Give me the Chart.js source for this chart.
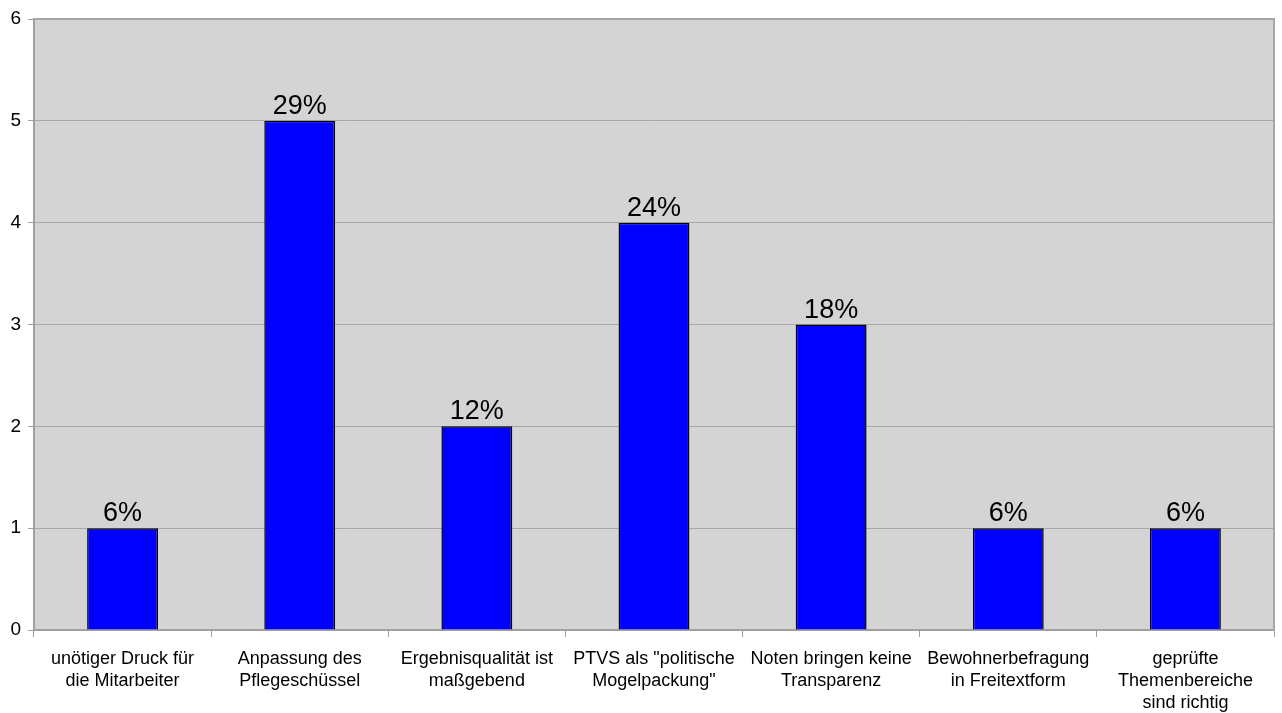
<!DOCTYPE html>
<html>
<head>
<meta charset="utf-8">
<script src="https://cdn.jsdelivr.net/npm/chart.js@4.4.1/dist/chart.umd.min.js"></script>
<style>
  html, body { margin: 0; padding: 0; background: #ffffff; }
  #wrap { width: 1282px; height: 713px; }
</style>
</head>
<body>
<div id="wrap"><canvas id="umfrageChart" width="1282" height="713"></canvas></div>
<script>
// Antworten (Anzahl Nennungen)
const kategorien = [
  ["unötiger Druck für", "die Mitarbeiter"],
  ["Anpassung des", "Pflegeschüssel"],
  ["Ergebnisqualität ist", "maßgebend"],
  ["PTVS als \"politische", "Mogelpackung\""],
  ["Noten bringen keine", "Transparenz"],
  ["Bewohnerbefragung", "in Freitextform"],
  ["geprüfte", "Themenbereiche", "sind richtig"]
];
const anzahl = [1, 5, 2, 4, 3, 1, 1];
const yTicks = [0, 1, 2, 3, 4, 5, 6];

const gesamt = anzahl.reduce((a, b) => a + b, 0);
const prozent = anzahl.map(v => Math.round(v / gesamt * 100) + "%");

// grauer Hintergrund für die Zeichenfläche
const plotBackground = {
  id: 'plotBackground',
  beforeDraw(chart) {
    const { ctx, chartArea: a } = chart;
    ctx.save();
    ctx.fillStyle = '#d4d4d4';
    ctx.fillRect(a.left, a.top, a.right - a.left, a.bottom - a.top);
    ctx.restore();
  },
  afterDatasetsDraw(chart) {
    const { ctx, chartArea: a } = chart;
    ctx.save();
    ctx.strokeStyle = '#a6a6a6';
    ctx.lineWidth = 2;
    ctx.beginPath();
    ctx.moveTo(a.left, a.top);
    ctx.lineTo(a.right, a.top);
    ctx.lineTo(a.right, a.bottom);
    ctx.stroke();
    ctx.restore();
  }
};

// Prozentwerte über den Balken
const balkenLabels = {
  id: 'balkenLabels',
  afterDatasetsDraw(chart) {
    const { ctx } = chart;
    const meta = chart.getDatasetMeta(0);
    ctx.save();
    ctx.fillStyle = '#000000';
    ctx.font = '27px "Liberation Sans", Arial, sans-serif';
    ctx.textAlign = 'center';
    ctx.textBaseline = 'alphabetic';
    meta.data.forEach((bar, i) => {
      ctx.fillText(prozent[i], bar.x, bar.y - 7);
    });
    ctx.restore();
  }
};

const ctx = document.getElementById('umfrageChart').getContext('2d');
new Chart(ctx, {
  type: 'bar',
  data: {
    labels: kategorien,
    datasets: [{
      data: anzahl,
      backgroundColor: '#0000ff',
      borderColor: '#000000',
      borderWidth: 1.5,
      barPercentage: 0.4,
      categoryPercentage: 1.0
    }]
  },
  options: {
    responsive: false,
    animation: false,
    layout: { padding: { top: 19, right: 8, left: 0, bottom: 0 } },
    plugins: {
      legend: { display: false },
      tooltip: { enabled: false }
    },
    scales: {
      x: {
        afterFit(scale) { scale.height = 83; },
        grid: {
          offset: true,
          drawOnChartArea: false,
          drawTicks: true,
          tickLength: 7,
          color: '#a0a0a0'
        },
        border: { color: '#a0a0a0', width: 2 },
        ticks: {
          color: '#000000',
          font: { family: '"Liberation Sans", Arial, sans-serif', size: 18, lineHeight: 1.22 },
          padding: 11,
          maxRotation: 0,
          autoSkip: false
        }
      },
      y: {
        min: 0,
        max: 6,
        afterFit(scale) { scale.width = 34; },
        afterBuildTicks(scale) { scale.ticks = yTicks.map(v => ({ value: v })); },
        grid: {
          color: '#a8a8a8',
          lineWidth: 1,
          drawTicks: true,
          tickLength: 6,
          tickColor: '#a0a0a0'
        },
        border: { color: '#a0a0a0', width: 2 },
        ticks: {
          color: '#000000',
          font: { family: '"Liberation Sans", Arial, sans-serif', size: 19 },
          padding: 7
        }
      }
    }
  },
  plugins: [plotBackground, balkenLabels]
});
</script>
</body>
</html>
